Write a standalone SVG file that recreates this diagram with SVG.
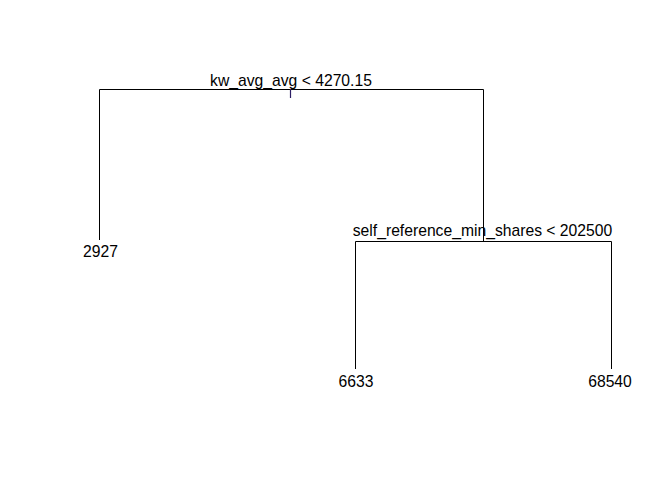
<svg xmlns="http://www.w3.org/2000/svg" width="672" height="480" viewBox="0 0 672 480">
<style>
.e{stroke:#000;stroke-width:1;fill:none}
.t{font-family:"Liberation Sans",Arial,sans-serif;font-size:15.7px;fill:#000;text-anchor:middle}
</style>
<rect width="672" height="480" fill="#fff"/>
<g id="connectors">
<path class="e" d="M99.5,240 V89.5 H483.5 V241"/>
<path class="e" d="M355.5,369 V241.5 H611.5 V369"/>
<path d="M290.5,89 V98" stroke="#2e1f66" stroke-width="1.2" fill="none"/>
</g>
<g id="node-root"><text class="t" x="291" y="86">kw_avg_avg &lt; 4270.15</text></g>
<g id="node-split2"><text class="t" x="482.5" y="236">self_reference_min_shares &lt; 202500</text></g>
<g id="leaf-2927"><text class="t" x="100.5" y="257">2927</text></g>
<g id="leaf-6633"><text class="t" x="356" y="387">6633</text></g>
<g id="leaf-68540"><text class="t" x="610" y="387">68540</text></g>
</svg>
